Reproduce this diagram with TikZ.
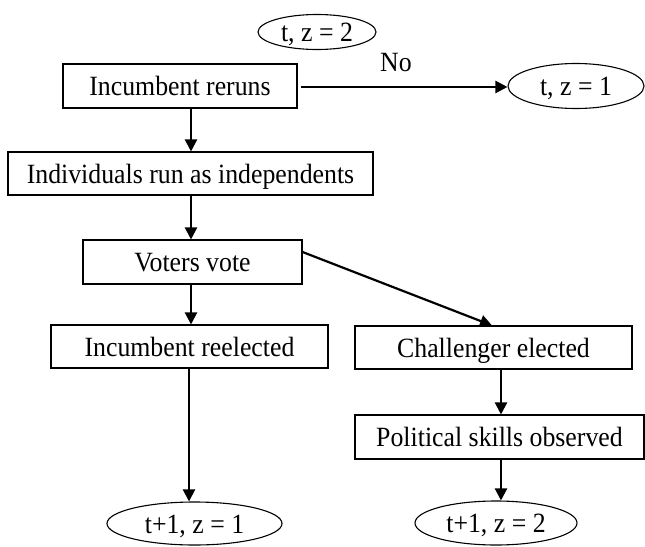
\documentclass[tikz,border=0pt]{standalone}
\usepackage{fontspec}
\setmainfont{Liberation Serif}
\usetikzlibrary{shapes.geometric,arrows.meta,calc}
\newcommand{\tallt}[1]{\scalebox{1}[1.08]{#1}}
\begin{document}
\begin{tikzpicture}[x=1pt,y=-1pt,
  txt/.style={font=\fontsize{25.8}{30}\selectfont, text height=20pt, text depth=1pt, inner sep=0pt},
  box/.style={txt, draw, line width=1.1pt, rectangle},
  oval/.style={txt, draw, line width=1.1pt, ellipse},
  arr/.style={line width=2.2pt, -{Triangle[length=12pt,width=12pt]}}]
\useasboundingbox (0,0) rectangle (645,546);
\node[oval, minimum width=118pt, minimum height=35pt] (E1) at (317,32) {\tallt{t, z = 2}};
\node[box, minimum width=234pt, minimum height=44pt] (B1) at (180,86) {\tallt{Incumbent reruns}};
\node[oval, minimum width=136pt, minimum height=45pt] (E2) at (576,86) {\tallt{t, z = 1}};
\node[txt] (No) at (396,62) {\tallt{No}};
\node[box, minimum width=365pt, minimum height=43pt] (B2) at (190.5,173.5) {\tallt{Individuals run as independents}};
\node[box, minimum width=219pt, minimum height=44pt] (B3) at (192.5,262) {\tallt{Voters vote}};
\node[box, minimum width=277pt, minimum height=43pt] (B4) at (189.5,346.5) {\tallt{Incumbent reelected}};
\node[box, minimum width=277pt, minimum height=43pt] (B5) at (493.5,347.5) {\tallt{Challenger elected}};
\node[box, minimum width=289pt, minimum height=44pt] (B6) at (499.5,437) {\tallt{Political skills observed}};
\node[oval, minimum width=175pt, minimum height=43pt] (E3) at (194.5,523.5) {\tallt{t+1, z = 1}};
\node[oval, minimum width=162pt, minimum height=44pt] (E4) at (496,523) {\tallt{t+1, z = 2}};
\coordinate (xa) at (191,0);
\coordinate (xb) at (189,0);
\coordinate (xc) at (501,0);
\coordinate (xd) at (492,0);
\draw[arr] ($(B1.east)+(3,1)$) -- (E2.west |- {$(B1.east)+(3,1)$});
\draw[arr] (B1.south -| xa) -- (B2.north -| xa);
\draw[arr] (B2.south -| xa) -- (B3.north -| xa);
\draw[arr] (B3.south -| xa) -- (B4.north -| xa);
\draw[arr] ($(B3.east)+(0,-10)$) -- (B5.north -| xd);
\draw[arr] (B4.south -| xb) -- (E3.north -| xb);
\draw[arr] (B5.south -| xc) -- (B6.north -| xc);
\draw[arr] (B6.south -| xc) -- (E4.north -| xc);
\end{tikzpicture}
\end{document}
